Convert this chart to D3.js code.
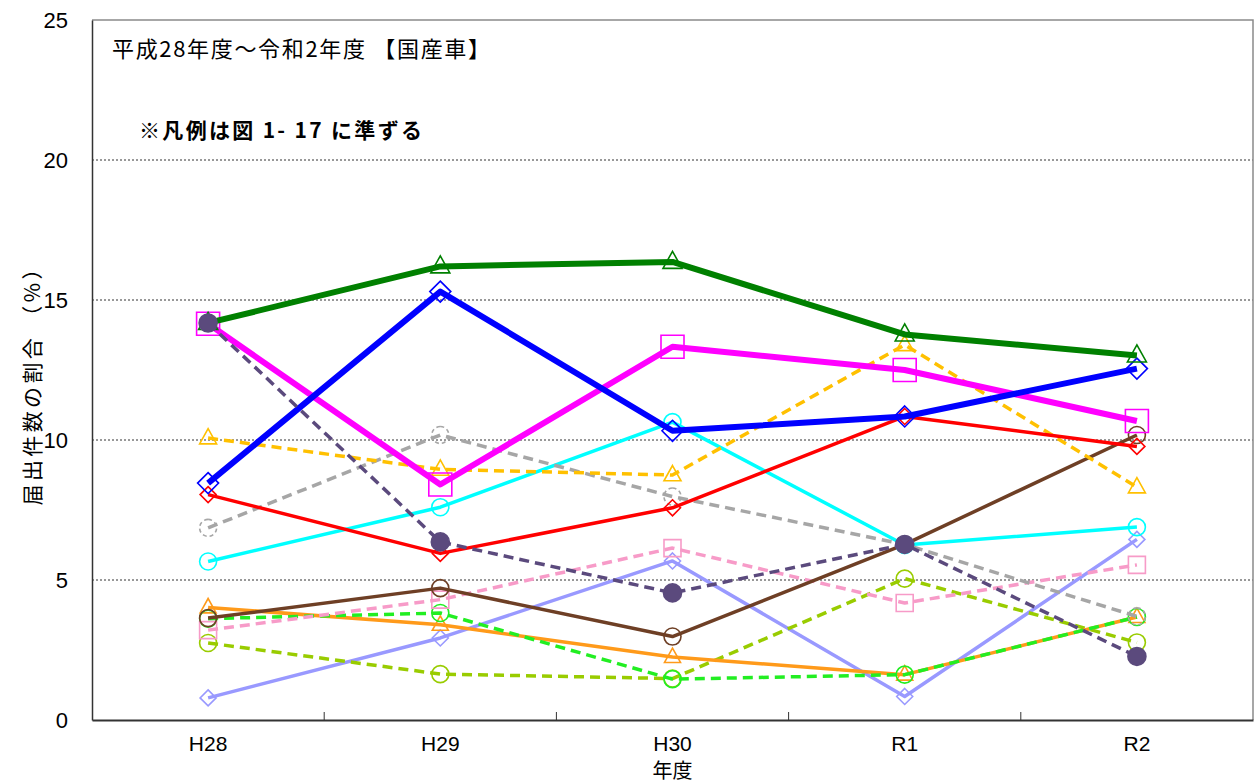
<!DOCTYPE html>
<html>
<head>
<meta charset="utf-8">
<script src="https://cdn.jsdelivr.net/npm/d3@7/dist/d3.min.js"></script>
<style>
  html, body { margin: 0; padding: 0; background: #fff; }
  svg { display: block; }
</style>
</head>
<body>
<svg id="chart" width="1254" height="784"></svg>
<script>
// Fiscal years on the x axis
const categories = ["H28", "H29", "H30", "R1", "R2"];
const yTicks = [0, 5, 10, 15, 20, 25];

// Share of notifications (%) per fiscal year, one array per item
const darkGreen   = [14.18, 16.20, 16.36, 13.77, 13.02];
const blue        = [8.46, 15.30, 10.33, 10.84, 12.55];
const magenta     = [14.15, 8.41, 13.33, 12.50, 10.68];
const red         = [8.05, 5.95, 7.58, 10.84, 9.77];
const gold        = [10.07, 8.95, 8.75, 13.40, 8.32];
const gray        = [6.86, 10.18, 7.98, 6.27, 3.70];
const cyan        = [5.66, 7.60, 10.64, 6.25, 6.89];
const purple      = [14.18, 6.36, 4.54, 6.27, 2.27];
const brown       = [3.64, 4.71, 2.98, 6.27, 10.18];
const pink        = [3.21, 4.30, 6.14, 4.18, 5.54];
const orange      = [4.02, 3.40, 2.25, 1.62, 3.68];
const lime        = [3.62, 3.82, 1.46, 1.62, 3.68];
const yellowGreen = [2.75, 1.64, 1.48, 5.05, 2.77];
const lavender    = [0.79, 2.93, 5.68, 0.84, 6.45];

// Drawing styles, listed back to front
const series = [
  { values: lavender,    color: "#9999ff", width: 3.5, dash: null,   marker: "diamond",  size: 16 },
  { values: yellowGreen, color: "#99cc00", width: 3.5, dash: "10,6", marker: "circle",   size: 17 },
  { values: orange,      color: "#ff9a1a", width: 3.5, dash: null,   marker: "triangle", size: 16 },
  { values: lime,        color: "#22ee22", width: 3.5, dash: "10,6", marker: "circle",   size: 17 },
  { values: pink,        color: "#f79bc8", width: 3.5, dash: "10,6", marker: "square",   size: 17 },
  { values: brown,       color: "#6e3f25", width: 3.5, dash: null,   marker: "circle",   size: 17 },
  { values: cyan,        color: "#00ffff", width: 3.5, dash: null,   marker: "circle",   size: 17 },
  { values: gray,        color: "#a6a6a6", width: 3.5, dash: "10,6", marker: "circle",   size: 17, markerDash: "4,3" },
  { values: gold,        color: "#ffc000", width: 3.5, dash: "10,6", marker: "triangle", size: 17 },
  { values: red,         color: "#ff0000", width: 3.5, dash: null,   marker: "diamond",  size: 16 },
  { values: magenta,     color: "#ff00ff", width: 6,   dash: null,   marker: "square",   size: 23 },
  { values: blue,        color: "#0000ff", width: 6,   dash: null,   marker: "diamond",  size: 21 },
  { values: darkGreen,   color: "#008000", width: 6,   dash: null,   marker: "triangle", size: 19 },
  { values: purple,      color: "#5b4a7d", width: 3.5, dash: "10,6", marker: "dot",      size: 18 }
];

const svg = d3.select("#chart");
const plot = { left: 92, right: 1253, top: 20, bottom: 720 };

const x = d3.scaleBand().domain(categories).range([plot.left, plot.right]).padding(0);
const cx = c => x(c) + x.bandwidth() / 2;
const y = d3.scaleLinear().domain([0, 25]).range([plot.bottom, plot.top]);

// Horizontal dotted gridlines
svg.append("g")
  .selectAll("line")
  .data(yTicks.filter(v => v > 0 && v < 25))
  .join("line")
  .attr("x1", plot.left).attr("x2", plot.right)
  .attr("y1", d => y(d)).attr("y2", d => y(d))
  .attr("stroke", "#333").attr("stroke-width", 1)
  .attr("stroke-dasharray", "2,2");

// Plot frame (top and right edges)
svg.append("path")
  .attr("d", `M${plot.left},${plot.top}H${plot.right}V${plot.bottom}`)
  .attr("fill", "none").attr("stroke", "#8a8a8a").attr("stroke-width", 1.5);

// Y axis
const yAxis = svg.append("g")
  .attr("transform", `translate(${plot.left},0)`)
  .call(d3.axisLeft(y).tickValues(yTicks).tickSize(0).tickPadding(24));
yAxis.select(".domain").attr("stroke", "#333").attr("stroke-width", 1.5);
yAxis.selectAll("text")
  .attr("font-family", "'Liberation Sans', Arial, sans-serif")
  .attr("font-size", 22).attr("fill", "#000");

// X axis with tick marks between categories
const xAxis = svg.append("g")
  .attr("transform", `translate(0,${plot.bottom})`)
  .call(d3.axisBottom(x).tickSize(0).tickPadding(16));
xAxis.select(".domain").attr("stroke", "#333").attr("stroke-width", 2);
xAxis.selectAll("text")
  .attr("font-family", "'Liberation Sans Narrow', 'Liberation Sans', Arial, sans-serif")
  .attr("font-size", 21).attr("fill", "#000");
xAxis.append("g")
  .selectAll("line")
  .data(categories.slice(1))
  .join("line")
  .attr("x1", d => x(d)).attr("x2", d => x(d))
  .attr("y1", 0).attr("y2", -8)
  .attr("stroke", "#333").attr("stroke-width", 1);

// Axis titles
svg.append("text")
  .attr("x", cx("H30")).attr("y", 778)
  .attr("text-anchor", "middle")
  .attr("font-family", "'Noto Sans CJK JP', sans-serif")
  .attr("font-size", 20).attr("fill", "#000")
  .text("年度");

svg.append("text")
  .attr("transform", "translate(40,382) rotate(-90)")
  .attr("text-anchor", "middle")
  .attr("font-family", "'Noto Sans CJK JP', sans-serif")
  .attr("font-size", 21).attr("fill", "#000")
  .attr("textLength", 247).attr("lengthAdjust", "spacing")
  .text("届出件数の割合 （%）");

// In-plot captions
svg.append("text")
  .attr("x", 112).attr("y", 57)
  .attr("font-family", "'Noto Sans CJK JP', sans-serif")
  .attr("font-size", 22).attr("fill", "#000")
  .attr("textLength", 378).attr("lengthAdjust", "spacing")
  .text("平成28年度～令和2年度 【国産車】");

svg.append("text")
  .attr("x", 139).attr("y", 138)
  .attr("font-family", "'Noto Sans CJK JP', sans-serif")
  .attr("font-weight", "bold")
  .attr("font-size", 21).attr("fill", "#000")
  .attr("textLength", 283).attr("lengthAdjust", "spacing")
  .text("※凡例は図 1- 17 に準ずる");

// Marker shapes
function markerPath(type, size) {
  const h = size / 2;
  switch (type) {
    case "triangle": {
      const th = size * 0.9;
      return `M0,${-th * 0.62}L${h},${th * 0.38}L${-h},${th * 0.38}Z`;
    }
    case "square":
      return `M${-h},${-h}H${h}V${h}H${-h}Z`;
    case "diamond":
      return `M0,${-h}L${h},0L0,${h}L${-h},0Z`;
    default:
      return d3.arc()({ innerRadius: 0, outerRadius: h, startAngle: 0, endAngle: 2 * Math.PI });
  }
}

const line = d3.line()
  .x((d, i) => cx(categories[i]))
  .y(d => y(d));

const layer = svg.append("g");
series.forEach(s => {
  const g = layer.append("g");
  g.append("path")
    .datum(s.values)
    .attr("d", line)
    .attr("fill", "none")
    .attr("stroke", s.color)
    .attr("stroke-width", s.width)
    .attr("stroke-linejoin", "round")
    .attr("stroke-dasharray", s.dash);
  g.selectAll("path.mk")
    .data(s.values)
    .join("path")
    .attr("class", "mk")
    .attr("transform", (d, i) => `translate(${cx(categories[i])},${y(d)})`)
    .attr("d", markerPath(s.marker === "dot" ? "circle" : s.marker, s.size))
    .attr("fill", s.marker === "dot" ? s.color : "none")
    .attr("stroke", s.color)
    .attr("stroke-width", 1.6)
    .attr("stroke-dasharray", s.markerDash || null);
});
</script>
</body>
</html>
